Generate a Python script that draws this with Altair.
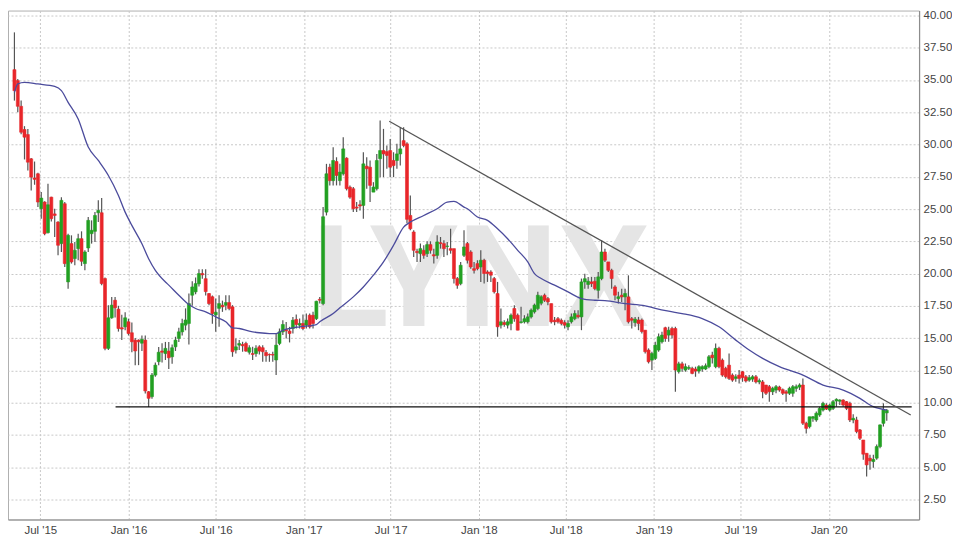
import altair as alt
import pandas as pd

# weekly candles, first week 2015-05-08
start_date = "2015-05-08"

opens = [35.80, 34.95, 32.96, 31.16, 30.77, 28.89, 27.40, 27.73, 25.02, 25.54,
         23.17, 25.92, 24.62, 23.99, 22.32, 25.41, 19.35, 22.32, 21.16, 21.93,
         22.70, 20.77, 21.98, 23.09, 23.27, 24.71, 24.71, 19.61, 14.20, 16.57,
         17.93, 17.24, 15.80, 15.87, 16.26, 15.41, 14.84, 14.84, 14.60, 14.84,
         10.84, 10.46, 12.13, 13.17, 14.00, 13.80, 13.99, 13.55, 14.32, 14.97,
         15.48, 16.00, 16.13, 18.32, 18.58, 19.20, 20.00, 19.60, 18.45, 18.20,
         16.80, 17.30, 17.54, 17.54, 17.75, 17.42, 14.07, 14.45, 14.50, 14.58,
         13.90, 13.80, 13.80, 14.32, 14.25, 13.88, 13.73, 13.73, 13.30, 14.58,
         15.48, 15.66, 15.54, 15.74, 16.44, 16.00, 16.13, 16.00, 16.77, 16.77,
         16.50, 18.00, 17.67, 24.76, 28.24, 27.20, 28.68, 27.20, 27.73, 28.94,
         26.70, 26.57, 25.15, 25.33, 25.28, 28.32, 28.24, 26.31, 26.57, 28.90,
         29.53, 29.45, 29.53, 28.76, 28.76, 29.27, 30.30, 30.05, 24.50, 23.22,
         21.72, 21.54, 21.80, 21.54, 22.24, 21.46, 21.41, 22.39, 22.32, 22.10,
         21.93, 21.93, 19.61, 19.22, 21.41, 22.32, 21.67, 20.38, 20.77, 20.51,
         21.03, 20.12, 20.12, 19.61, 18.45, 16.00, 16.20, 16.00, 16.13, 17.29,
         16.77, 16.20, 16.26, 16.26, 16.64, 17.03, 17.29, 17.70, 18.32, 18.06,
         17.67, 16.38, 16.50, 16.38, 16.20, 15.87, 16.26, 16.50, 16.77, 16.64,
         19.35, 19.15, 19.35, 19.40, 18.70, 19.61, 21.67, 20.90, 20.25, 18.96,
         18.06, 18.32, 18.19, 18.19, 16.50, 16.20, 16.40, 16.40, 15.61, 14.07,
         13.29, 13.42, 14.07, 14.71, 15.80, 15.23, 15.74, 15.74, 12.40, 13.00,
         12.52, 12.65, 12.65, 12.60, 12.44, 12.60, 12.60, 12.78, 13.68, 12.78,
         14.20, 13.29, 12.65, 12.90, 12.13, 11.87, 12.13, 12.39, 12.00, 11.74,
         11.82, 12.00, 11.60, 11.60, 11.36, 11.23, 10.84, 10.97, 11.20, 11.00,
         10.84, 10.72, 10.72, 11.10, 11.20, 11.36, 8.40, 8.14, 8.78, 8.65,
         9.04, 9.42, 9.81, 9.42, 9.55, 10.12, 10.10, 10.20, 10.07, 9.94,
         8.65, 8.65, 7.88, 7.10, 6.07, 5.69, 5.43, 5.69, 6.59, 8.39,
         9.20]
highs = [38.69, 35.08, 33.40, 31.42, 31.21, 28.95, 28.68, 27.81, 26.31, 25.60,
         26.96, 25.95, 25.02, 24.05, 25.92, 25.54, 23.09, 22.96, 22.45, 23.09,
         23.27, 21.80, 24.38, 24.12, 24.76, 25.67, 25.85, 19.70, 17.55, 18.19,
         18.19, 17.50, 16.80, 17.00, 16.50, 16.20, 15.00, 14.90, 15.20, 15.20,
         10.90, 12.30, 13.10, 14.30, 14.60, 14.70, 14.70, 14.50, 15.10, 15.80,
         16.50, 17.30, 18.45, 19.40, 19.70, 20.33, 20.33, 20.33, 18.50, 18.30,
         18.06, 18.32, 17.90, 18.32, 18.32, 17.55, 14.97, 14.84, 14.71, 14.71,
         14.45, 14.32, 14.45, 14.45, 14.45, 14.07, 13.80, 13.94, 15.35, 15.74,
         16.38, 16.25, 15.87, 16.64, 16.82, 16.51, 16.82, 16.90, 16.90, 17.03,
         17.90, 18.19, 25.15, 28.50, 28.50, 29.79, 29.01, 28.50, 30.56, 29.01,
         26.83, 26.70, 25.54, 25.67, 29.40, 29.01, 28.76, 27.08, 29.27, 31.85,
         31.21, 29.92, 30.43, 29.40, 30.05, 31.34, 31.34, 30.18, 26.05, 23.35,
         21.93, 22.32, 22.19, 22.50, 22.50, 21.93, 22.96, 22.83, 22.58, 22.45,
         23.47, 21.93, 19.74, 20.90, 23.35, 22.45, 21.80, 20.90, 21.03, 21.80,
         21.15, 20.25, 20.25, 19.74, 19.35, 17.29, 16.38, 16.51, 16.90, 17.55,
         16.90, 17.42, 16.77, 16.90, 17.29, 17.67, 18.58, 18.32, 18.45, 18.19,
         17.67, 16.64, 16.64, 16.51, 16.38, 16.38, 16.90, 17.16, 17.16, 19.61,
         19.99, 19.74, 19.74, 19.74, 20.12, 22.58, 21.93, 20.90, 20.38, 19.09,
         18.58, 18.83, 18.83, 19.86, 16.64, 16.64, 16.64, 16.51, 15.61, 14.20,
         13.94, 14.71, 15.35, 15.48, 15.87, 15.87, 15.87, 15.87, 13.16, 13.16,
         13.03, 12.90, 12.78, 12.78, 12.90, 12.90, 13.03, 13.68, 13.94, 14.58,
         14.33, 13.42, 12.78, 13.80, 12.26, 12.19, 12.52, 12.45, 12.13, 12.13,
         12.13, 12.13, 11.87, 11.74, 11.36, 11.36, 11.23, 11.36, 11.30, 11.10,
         10.97, 11.23, 11.36, 11.40, 11.49, 11.87, 8.52, 8.90, 8.95, 9.30,
         9.68, 10.07, 9.94, 9.90, 10.20, 10.33, 10.25, 10.25, 10.12, 10.07,
         9.10, 8.90, 7.95, 7.10, 6.07, 5.95, 5.95, 6.75, 8.30, 9.94,
         9.50]
lows = [33.40, 32.50, 30.80, 28.84, 27.99, 26.44, 26.88, 25.15, 24.25, 22.96,
        23.10, 24.04, 22.83, 21.41, 21.67, 20.51, 18.83, 20.77, 20.64, 21.03,
        20.59, 20.25, 21.67, 22.32, 22.45, 23.99, 19.09, 14.05, 14.07, 16.50,
        16.60, 15.50, 14.85, 15.60, 15.20, 13.90, 12.90, 12.90, 14.00, 10.70,
        9.66, 10.30, 12.00, 12.90, 13.10, 13.30, 12.60, 13.00, 14.00, 14.70,
        15.20, 15.60, 14.50, 17.50, 18.40, 19.00, 19.60, 18.30, 17.55, 16.10,
        15.48, 15.87, 17.03, 17.16, 17.16, 13.55, 13.80, 14.07, 13.94, 13.94,
        13.73, 13.29, 13.55, 13.73, 13.16, 13.16, 13.16, 13.16, 12.13, 14.45,
        15.23, 14.97, 14.66, 15.35, 15.74, 15.74, 15.61, 15.74, 15.74, 15.74,
        16.40, 17.67, 17.54, 24.50, 26.83, 26.83, 26.83, 26.83, 27.60, 26.44,
        25.80, 24.76, 24.76, 24.89, 24.25, 26.57, 25.54, 26.31, 26.44, 27.47,
        27.47, 28.12, 27.47, 27.47, 28.12, 28.37, 29.79, 23.90, 23.35, 21.28,
        20.90, 20.90, 21.15, 21.28, 21.54, 20.77, 21.15, 21.93, 21.28, 21.41,
        21.54, 19.22, 18.83, 19.09, 21.28, 20.77, 20.38, 20.00, 20.25, 19.35,
        19.22, 19.35, 19.35, 18.45, 15.10, 15.74, 15.87, 15.74, 15.61, 16.26,
        15.61, 16.13, 16.13, 16.13, 16.51, 16.90, 17.16, 17.54, 17.80, 17.54,
        16.13, 16.00, 16.13, 16.00, 15.74, 15.61, 16.13, 16.38, 16.51, 15.61,
        18.83, 18.83, 18.96, 18.70, 18.06, 19.48, 20.90, 20.12, 18.83, 17.93,
        17.67, 17.80, 17.16, 16.13, 15.74, 15.87, 15.61, 15.35, 13.80, 13.03,
        12.52, 13.29, 13.94, 14.58, 14.71, 14.71, 14.97, 10.84, 12.26, 12.39,
        12.39, 12.52, 12.19, 12.00, 12.26, 12.39, 12.52, 12.65, 13.03, 12.65,
        12.65, 12.00, 11.87, 11.74, 11.61, 11.61, 11.48, 11.61, 11.55, 11.61,
        11.61, 11.48, 11.42, 10.33, 10.59, 10.07, 10.59, 10.72, 10.84, 10.59,
        10.07, 10.59, 10.46, 10.84, 10.97, 8.27, 7.60, 8.00, 8.52, 8.52,
        8.90, 9.30, 9.42, 9.30, 9.42, 9.68, 9.81, 9.68, 9.42, 8.50,
        8.40, 7.62, 7.10, 5.56, 4.27, 4.80, 4.95, 5.56, 6.46, 8.14,
        8.60]
closes = [34.17, 32.96, 30.95, 30.57, 28.63, 27.47, 27.30, 25.54, 25.85, 23.09,
          25.33, 24.25, 24.50, 22.19, 25.67, 20.77, 22.96, 20.90, 21.80, 22.70,
          20.95, 21.67, 24.12, 23.35, 24.50, 24.89, 19.22, 14.20, 16.57, 17.55,
          17.34, 15.74, 15.70, 16.57, 15.35, 14.71, 14.00, 14.71, 14.90, 10.90,
          10.33, 12.13, 12.90, 13.90, 13.90, 14.20, 13.47, 14.25, 14.84, 15.48,
          16.13, 16.40, 17.67, 18.96, 19.22, 20.00, 19.90, 18.60, 17.67, 16.90,
          17.00, 17.67, 17.42, 17.75, 17.29, 13.94, 14.32, 14.58, 14.40, 13.99,
          14.25, 13.73, 14.20, 13.99, 13.94, 13.63, 13.70, 13.68, 14.45, 15.48,
          16.05, 15.56, 15.35, 16.38, 16.05, 16.13, 15.74, 16.38, 15.87, 16.13,
          17.85, 17.93, 24.40, 27.73, 27.20, 28.76, 27.60, 27.86, 29.66, 26.57,
          25.92, 25.02, 25.07, 25.23, 28.50, 28.12, 26.83, 26.70, 28.76, 29.53,
          29.27, 29.15, 28.24, 28.37, 29.27, 29.66, 29.92, 24.20, 23.47, 21.80,
          21.62, 21.93, 21.41, 22.24, 21.80, 21.36, 22.45, 22.32, 21.93, 22.13,
          21.80, 19.61, 19.09, 20.64, 22.06, 21.03, 20.51, 20.25, 20.38, 21.03,
          20.00, 20.00, 19.87, 18.58, 15.87, 16.26, 16.05, 16.26, 16.77, 16.50,
          15.61, 16.26, 16.50, 16.64, 17.16, 17.55, 18.32, 18.20, 17.93, 17.80,
          16.26, 16.26, 16.26, 16.13, 16.00, 16.13, 16.64, 16.90, 16.64, 19.35,
          19.60, 19.40, 19.22, 18.83, 19.74, 21.67, 21.03, 20.25, 19.61, 18.32,
          18.20, 18.19, 18.45, 16.26, 16.38, 16.46, 16.13, 15.50, 13.94, 13.16,
          13.80, 14.45, 15.10, 15.23, 14.97, 15.61, 15.23, 12.52, 13.00, 12.65,
          12.78, 12.72, 12.26, 12.44, 12.78, 12.78, 12.85, 13.55, 13.47, 14.20,
          12.78, 12.13, 12.00, 11.87, 11.74, 12.00, 11.87, 11.93, 11.67, 11.93,
          12.00, 11.60, 11.70, 10.84, 10.72, 10.84, 11.10, 11.23, 10.97, 10.72,
          10.72, 11.10, 11.23, 11.23, 11.36, 8.40, 8.00, 8.90, 8.90, 9.17,
          9.55, 9.94, 9.50, 9.81, 10.07, 10.25, 10.20, 9.81, 9.55, 8.65,
          8.78, 7.75, 7.23, 6.00, 5.17, 5.48, 5.60, 6.59, 8.27, 9.42,
          9.40]

# moving average line: (week index, value)
ma_week = [0, 1, 3, 7, 12, 14, 16, 19, 22, 25, 28, 31, 33, 35, 38, 40, 42, 45, 46, 49,
           52, 54, 57, 60, 63, 65, 67, 70, 73, 76, 78, 80, 82, 85, 90, 91, 95, 97, 101, 104,
           107, 110, 113, 116, 118, 122, 126, 129, 131, 134, 135, 138, 141, 144, 147, 150, 153,
           155, 157, 161, 165, 169, 173, 176, 182, 188, 191, 195, 199, 205, 210, 215, 219, 223,
           228, 235, 241, 247, 252, 256, 260]
ma_value = [34.04, 34.70, 34.82, 34.69, 34.50, 34.17, 33.27, 31.98, 29.80, 28.76, 27.60,
            26.05, 24.76, 23.73, 22.31, 21.15, 20.25, 19.35, 19.10, 18.32, 17.60, 17.29,
            17.03, 16.64, 16.26, 15.79, 15.74, 15.54, 15.41, 15.35, 15.35, 15.60, 15.74,
            15.87, 16.05, 16.26, 16.90, 17.34, 18.19, 18.96, 19.87, 20.90, 22.19, 23.60,
            23.99, 24.50, 25.02, 25.54, 25.59, 25.15, 25.02, 24.38, 24.12, 23.47, 22.70,
            21.80, 20.90, 19.99, 19.61, 19.10, 18.58, 18.06, 17.93, 17.90, 17.67, 17.50,
            17.30, 17.08, 16.90, 16.51, 15.87, 14.84, 14.07, 13.42, 12.78, 12.13, 11.36,
            10.97, 10.33, 9.68, 9.42]

support_dates = ["2015-12-05", "2020-06-22"]
support_values = [9.66, 9.66]
trend_dates = ["2017-06-28", "2020-06-20"]
trend_values = [31.8, 9.04]

tick_dates = [(2015, 7), (2016, 1), (2016, 7), (2017, 1), (2017, 7), (2018, 1),
              (2018, 7), (2019, 1), (2019, 7), (2020, 1)]
y_ticks = [2.5, 5.0, 7.5, 10.0, 12.5, 15.0, 17.5, 20.0, 22.5, 25.0, 27.5,
           30.0, 32.5, 35.0, 37.5, 40.0]

watermark_text = ["LYNX"]
watermark_date = ["2018-01-04"]
watermark_value = [15.9]

# ---------------------------------------------------------------
dates = pd.date_range(start_date, periods=len(opens), freq="7D")
df = pd.DataFrame({
    "date": dates.strftime("%Y-%m-%d"),
    "open": opens, "high": highs, "low": lows, "close": closes,
})
df["dir"] = ["up" if c >= o else "down" for o, c in zip(opens, closes)]

ma_df = pd.DataFrame({"date": [dates[i].strftime("%Y-%m-%d") for i in ma_week],
                      "value": ma_value})
sup_df = pd.DataFrame({"date": support_dates, "value": support_values})
trend_df = pd.DataFrame({"date": trend_dates, "value": trend_values})
wm_df = pd.DataFrame({"text": watermark_text, "date": watermark_date,
                      "value": watermark_value})

x_scale = alt.Scale(domain=[alt.DateTime(year=2015, month=5, date=5),
                            alt.DateTime(year=2020, month=6, date=27)])
y_scale = alt.Scale(domain=[0.94, 40.38], nice=False, zero=False)

x_axis = alt.Axis(values=[alt.DateTime(year=y, month=m, date=1) for y, m in tick_dates],
                  format="%b '%y", title=None, ticks=False, labelPadding=5,
                  grid=True, labelFlush=False, labelOverlap=False)
y_axis = alt.Axis(values=y_ticks, format=".2f", orient="right", title=None,
                  ticks=False, labelPadding=4, grid=True, labelOverlap=False,
                  labelFlush=False, labelBound=False)

X = alt.X("date:T", scale=x_scale, axis=x_axis)

def Yq(field):
    return alt.Y(field, scale=y_scale, axis=y_axis)

watermark = alt.Chart(wm_df).mark_text(
    font="Roboto", fontWeight="bold", fontSize=142, color="#e5e5e5",
    baseline="alphabetic", align="center"
).encode(x=X, y=Yq("value:Q"), text="text:N")

wicks = alt.Chart(df).mark_rule(color="#555555", strokeWidth=1.2).encode(
    x=X, y=Yq("low:Q"), y2="high:Q")

bodies = alt.Chart(df).mark_bar(size=3, strokeWidth=0.6).encode(
    x=X,
    y=Yq("open:Q"),
    y2="close:Q",
    color=alt.Color("dir:N", scale=alt.Scale(domain=["up", "down"],
                                             range=["#22a022", "#e8262a"]), legend=None),
    stroke=alt.Stroke("dir:N", scale=alt.Scale(domain=["up", "down"],
                                               range=["#22a022", "#e8262a"]), legend=None),
)

ma_line = alt.Chart(ma_df).mark_line(color="#4b4b9c", strokeWidth=1.3,
                                     interpolate="monotone").encode(x=X, y=Yq("value:Q"))
support = alt.Chart(sup_df).mark_line(color="#111111", strokeWidth=1.2).encode(
    x=X, y=Yq("value:Q"))
trend = alt.Chart(trend_df).mark_line(color="#555555", strokeWidth=1.3).encode(
    x=X, y=Yq("value:Q"))

chart = alt.layer(watermark, wicks, bodies, ma_line, support, trend).properties(
    width=913, height=510, padding=0, background="white"
).configure_view(stroke="#b0b0b0", strokeWidth=1).configure_axis(
    labelFont="Liberation Sans", labelFontSize=11.5, labelColor="#444444",
    gridColor="#c8c8c8", gridDash=[2, 2], gridWidth=1,
    domainColor="#8c8c8c", domainWidth=1.2, labelOverlap=False
)

chart.save("out.html", embed_options={"renderer": "svg", "actions": False})
